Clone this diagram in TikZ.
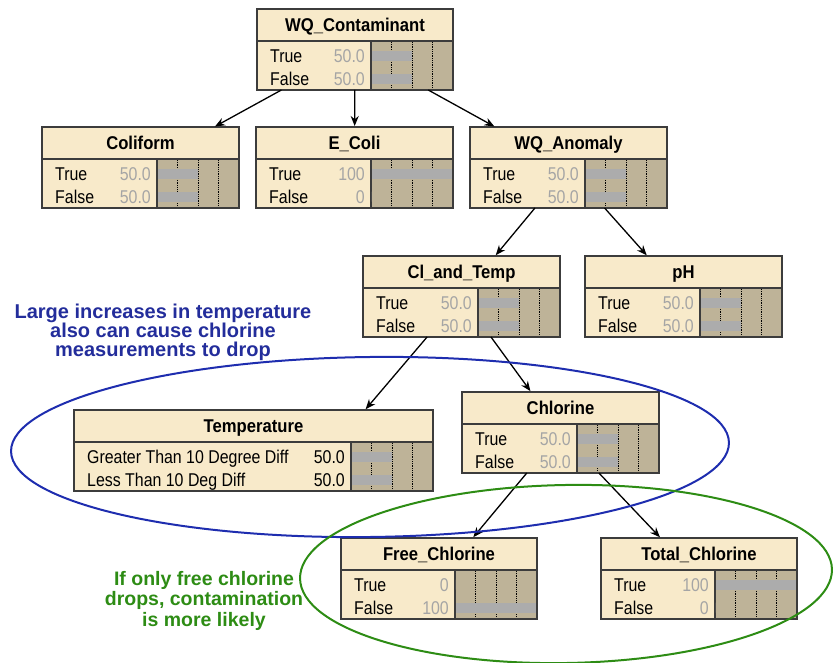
\documentclass[tikz,border=0pt]{standalone}
\usepackage{fontspec}
\setmainfont{Liberation Sans}
\newfontfamily\rowfont[FakeStretch=0.86]{Liberation Sans}
\newfontfamily\titlefont[FakeStretch=0.9]{Liberation Sans}
\usetikzlibrary{arrows.meta,calc}

\definecolor{nodefill}{RGB}{248,234,202}
\definecolor{barfill}{RGB}{190,179,152}
\definecolor{bargray}{RGB}{172,172,172}
\definecolor{valgray}{RGB}{165,165,165}
\definecolor{edgegray}{RGB}{60,60,60}
\definecolor{noteblue}{RGB}{35,45,155}
\definecolor{ringblue}{RGB}{30,45,175}
\definecolor{notegreen}{RGB}{45,140,20}

% box: name, top left corner, width, title
\newcommand{\bnbox}[4]{%
  \node[bnframe,minimum width=#3pt] (#1) at (#2) {};
  \fill[barfill] ([xshift=-82pt,yshift=-32pt]#1.north east) rectangle (#1.south east);
  \foreach \q in {1,2,3}
    \draw[barline] ([xshift=-82pt+\q*20.5pt,yshift=-33pt]#1.north east) -- ([xshift=-82pt+\q*20.5pt]#1.south east);
  \draw[bnedge] (#1.north west) rectangle (#1.south east)
    ([yshift=-32pt]#1.north west) -- ([yshift=-32pt]#1.north east)
    ([xshift=-82pt,yshift=-32pt]#1.north east) -- ([xshift=-82pt]#1.south east);
  \node[bntitle] at ([yshift=-16pt]#1.north) {#4};
}
% row: [value colour] box, row, label, value, bar fraction
\newcommand{\bnrow}[6][valgray]{%
  \node[rowlabel] at ([xshift=13pt,yshift=-46.7pt-#3*23pt]#2.north west) {#4};
  \node[rowvalue,text=#1] at ([xshift=-88pt,yshift=-46.7pt-#3*23pt]#2.north east) {#5};
  \fill[bargray] ([xshift=-81.3pt,yshift=-41.7pt-#3*23pt]#2.north east) rectangle ([xshift=-81.3pt+#6*80.6pt,yshift=-51.7pt-#3*23pt]#2.north east);
}

\begin{document}
\begin{tikzpicture}[x=1pt,y=-1pt,
%defines
  bnframe/.style={rectangle,fill=nodefill,anchor=north west,inner sep=0pt,outer sep=0pt,minimum height=81pt},
  bnedge/.style={draw=edgegray,line width=1.3pt},
  bntitle/.style={font=\titlefont\bfseries\fontsize{18.5}{20}\selectfont,inner sep=0pt,text height=13pt,text depth=0pt},
  rowlabel/.style={font=\rowfont\fontsize{18.5}{20}\selectfont,inner sep=0pt,text height=13pt,text depth=0pt,anchor=west},
  rowvalue/.style={rowlabel,anchor=east},
  barline/.style={black,densely dotted,line width=0.8pt},
  link/.style={-{Stealth[length=10pt,width=8pt]},line width=1.3pt,shorten >=1pt},
  note/.style={align=center,inner sep=0pt,anchor=north},
  ring/.style={line width=2pt}]
\useasboundingbox (0,0) rectangle (833,663);

\bnbox{wqc}{257,9}{196}{WQ\_Contaminant}
\bnrow{wqc}{0}{True}{50.0}{0.5}
\bnrow{wqc}{1}{False}{50.0}{0.5}

\bnbox{coli}{42,127}{197}{Coliform}
\bnrow{coli}{0}{True}{50.0}{0.5}
\bnrow{coli}{1}{False}{50.0}{0.5}

\bnbox{ecoli}{256,127}{197}{E\_Coli}
\bnrow{ecoli}{0}{True}{100}{1}
\bnrow{ecoli}{1}{False}{0}{0}

\bnbox{anom}{470,127}{197}{WQ\_Anomaly}
\bnrow{anom}{0}{True}{50.0}{0.5}
\bnrow{anom}{1}{False}{50.0}{0.5}

\bnbox{cltemp}{363,256}{197}{Cl\_and\_Temp}
\bnrow{cltemp}{0}{True}{50.0}{0.5}
\bnrow{cltemp}{1}{False}{50.0}{0.5}

\bnbox{ph}{585,256}{197}{pH}
\bnrow{ph}{0}{True}{50.0}{0.5}
\bnrow{ph}{1}{False}{50.0}{0.5}

\bnbox{temp}{74,410}{359}{Temperature}
\bnrow[black]{temp}{0}{Greater Than 10 Degree Diff}{50.0}{0.5}
\bnrow[black]{temp}{1}{Less Than 10 Deg Diff}{50.0}{0.5}

\bnbox{chlor}{462,392}{197}{Chlorine}
\bnrow{chlor}{0}{True}{50.0}{0.5}
\bnrow{chlor}{1}{False}{50.0}{0.5}

\bnbox{freecl}{341,538}{196}{Free\_Chlorine}
\bnrow{freecl}{0}{True}{0}{0}
\bnrow{freecl}{1}{False}{100}{1}

\bnbox{totcl}{601,538}{196}{Total\_Chlorine}
\bnrow{totcl}{0}{True}{100}{1}
\bnrow{totcl}{1}{False}{0}{0}

\draw[link] (wqc) -- (coli);
\draw[link] (wqc) -- (ecoli);
\draw[link] (wqc) -- (anom);
\draw[link] (anom) -- (cltemp);
\draw[link] (anom) -- (ph);
\draw[link] (cltemp) -- ([xshift=-68pt]temp.north east);
\draw[link] (cltemp) -- (chlor);
\draw[link] (chlor) -- (freecl);
\draw[link] (chlor) -- (totcl);

% notes
\draw[ring,ringblue] (370,447) ellipse [x radius=359,y radius=90,rotate=0.7];
\draw[ring,notegreen] (566,574) ellipse [x radius=266,y radius=89,rotate=1];
\node[note,text=noteblue,font=\bfseries\fontsize{20}{19.2}\selectfont] (tempnote) at (163,303.5)
  {Large increases in temperature\\also can cause chlorine\\measurements to drop};
\node[note,text=notegreen,font=\bfseries\fontsize{19.5}{20.5}\selectfont] (freenote) at (204,571)
  {If only free chlorine\\drops, contamination\\is more likely};
\end{tikzpicture}
\end{document}
